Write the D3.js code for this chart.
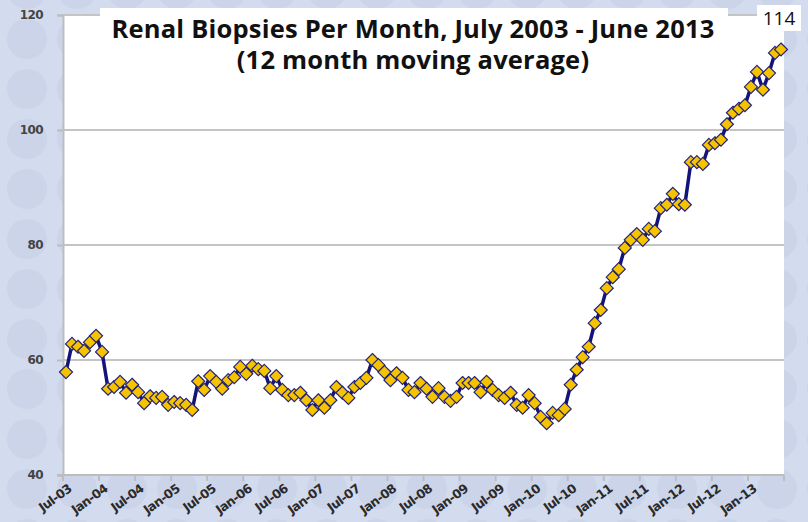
<!DOCTYPE html>
<html>
<head lang="en">
  <title>Renal Biopsies Per Month</title>
  <script src="https://d3js.org/d3.v7.min.js" charset="utf-8"></script>
  <style>
    body { margin: 0; }
  </style>
</head>
<body>
  <script>

    // DATA: 12 month moving average, Jul-03 .. Jun-13
    var biopsies = [
      57.9, 62.8, 62.3, 61.6, 63.1, 64.2, 61.4, 55.0, 55.3, 56.2, 54.3, 55.7,
      54.4, 52.5, 53.7, 53.4, 53.6, 52.2, 52.7, 52.5, 52.2, 51.3, 56.3, 54.8,
      57.2, 56.2, 55.0, 56.5, 57.0, 58.8, 57.6, 59.0, 58.4, 58.1, 55.1, 57.2,
      54.8, 53.9, 53.9, 54.3, 53.0, 51.3, 53.0, 51.7, 53.0, 55.3, 54.3, 53.4,
      55.3, 56.0, 56.9, 60.0, 59.1, 57.9, 56.5, 57.7, 56.9, 54.8, 54.4, 56.0,
      55.0, 53.6, 55.1, 53.6, 52.9, 53.6, 56.0, 56.0, 56.0, 54.4, 56.2, 54.8,
      53.9, 53.4, 54.3, 52.2, 51.7, 53.9, 52.5, 50.1, 49.0, 50.8, 50.4, 51.5,
      55.7, 58.3, 60.5, 62.3, 66.4, 68.7, 72.5, 74.4, 75.8, 79.5, 80.9, 81.9,
      80.9, 82.8, 82.4, 86.4, 87.0, 88.9, 87.1, 87.0, 94.4, 94.4, 94.1, 97.4,
      97.7, 98.3, 101.0, 103.0, 103.7, 104.3, 107.5, 110.1, 107.0, 109.9, 113.4, 114
    ];

    var tickLabels = [
      "Jul-03", "Jan-04", "Jul-04", "Jan-05", "Jul-05", "Jan-06", "Jul-06",
      "Jan-07", "Jul-07", "Jan-08", "Jul-08", "Jan-09", "Jul-09", "Jan-10",
      "Jul-10", "Jan-11", "Jul-11", "Jan-12", "Jul-12", "Jan-13"
    ];

    var yTicks = [40, 60, 80, 100, 120];

    var titleLines = ["Renal Biopsies Per Month, July 2003 - June 2013", "(12 month moving average)"];

    var lastLabel = "114";

    // months as categories, one per value
    var fmt = d3.timeFormat("%b-%y");
    var months = d3.timeMonths(new Date(2003, 6, 1), new Date(2013, 6, 1)).map(fmt);

    var width = 808;
    var height = 522;
    var plotLeft = 63, plotRight = 784, plotTop = 15, plotBottom = 475;

    var svg = d3.select("body")
      .append("svg")
      .attr("width", width)
      .attr("height", height);

    // BACKGROUND with faint circles
    var defs = svg.append("defs");
    var pat = defs.append("pattern")
      .attr("id", "dots")
      .attr("patternUnits", "userSpaceOnUse")
      .attr("x", 2)
      .attr("y", 14)
      .attr("width", 50)
      .attr("height", 50);
    pat.append("rect").attr("width", 50).attr("height", 50).attr("fill", "#d3dbee");
    pat.append("circle").attr("cx", 25).attr("cy", 25).attr("r", 20).attr("fill", "#ccd4ea");

    svg.append("rect")
      .attr("width", width)
      .attr("height", height)
      .attr("fill", "url(#dots)");

    // SCALES
    var x = d3.scaleBand()
      .domain(months)
      .range([plotLeft, plotRight]);

    var y = d3.scaleLinear()
      .domain([40, 120])
      .range([plotBottom, plotTop]);

    // plot area
    svg.append("rect")
      .attr("x", plotLeft)
      .attr("y", plotTop)
      .attr("width", plotRight - plotLeft)
      .attr("height", plotBottom - plotTop)
      .attr("fill", "#fff");

    // gridlines
    svg.append("g")
      .selectAll("line")
      .data(yTicks.slice(1))
      .enter().append("line")
        .attr("x1", plotLeft)
        .attr("x2", plotRight)
        .attr("y1", function(d) { return y(d); })
        .attr("y2", function(d) { return y(d); })
        .style("stroke", "#c4c4c4")
        .style("stroke-width", 2);

    // title box
    svg.append("rect")
      .attr("x", 100)
      .attr("y", 8)
      .attr("width", 628)
      .attr("height", 72)
      .attr("fill", "#fff");

    // Y AXIS
    var yAxis = svg.append("g")
      .attr("transform", "translate(" + plotLeft + ",0)")
      .call(d3.axisLeft(y).tickValues(yTicks).tickSize(6).tickPadding(14));
    yAxis.select(".domain").style("stroke", "#bdbdbd").style("stroke-width", 2);
    yAxis.selectAll(".tick line").style("stroke", "#bdbdbd").style("stroke-width", 2);
    yAxis.selectAll("text")
      .style("font-family", "'DejaVu Sans', sans-serif")
      .style("font-size", "12px")
      .style("font-weight", "bold")
      .style("letter-spacing", "-0.6px")
      .style("fill", "#444");

    // X AXIS: ticks between categories, every 6 months
    var bw = x.bandwidth();
    var tickPos = d3.range(0, months.length + 1, 6).map(function(i) { return plotLeft + i * bw; });

    svg.append("line")
      .attr("x1", plotLeft - 6)
      .attr("x2", plotRight)
      .attr("y1", plotBottom)
      .attr("y2", plotBottom)
      .style("stroke", "#bdbdbd")
      .style("stroke-width", 2);

    svg.append("g")
      .selectAll("line")
      .data(tickPos)
      .enter().append("line")
        .attr("x1", function(d) { return d; })
        .attr("x2", function(d) { return d; })
        .attr("y1", plotBottom)
        .attr("y2", plotBottom + 6)
        .style("stroke", "#bdbdbd")
        .style("stroke-width", 2);

    svg.append("g")
      .selectAll("text")
      .data(tickLabels)
      .enter().append("text")
        .attr("transform", function(d) {
          return "translate(" + (x(d) + bw / 2 + 4) + "," + (plotBottom + 12) + ") rotate(-36)";
        })
        .attr("text-anchor", "end")
        .attr("dy", "0.35em")
        .style("font-family", "'DejaVu Sans', sans-serif")
        .style("font-size", "12.5px")
        .style("font-weight", "bold")
        .style("letter-spacing", "-0.6px")
        .style("fill", "#2a2a2a")
        .text(function(d) { return d; });

    // LINE
    var line = d3.line()
      .x(function(d, i) { return x(months[i]) + bw / 2; })
      .y(function(d) { return y(d); });

    svg.append("path")
      .datum(biopsies)
      .attr("d", line)
      .style("fill", "none")
      .style("stroke", "#13137a")
      .style("stroke-width", 3.5)
      .style("stroke-linejoin", "round");

    // diamond markers
    var r = 6.5;
    svg.append("g")
      .selectAll("path")
      .data(biopsies)
      .enter().append("path")
        .attr("transform", function(d, i) {
          return "translate(" + (x(months[i]) + bw / 2) + "," + y(d) + ")";
        })
        .attr("d", "M0," + (-r) + "L" + r + ",0L0," + r + "L" + (-r) + ",0Z")
        .style("fill", "#f6c300")
        .style("stroke", "#23237a")
        .style("stroke-width", 1.2);

    // TITLE
    svg.append("g")
      .selectAll("text")
      .data(titleLines)
      .enter().append("text")
        .attr("x", 413)
        .attr("y", function(d, i) { return 38 + i * 31; })
        .attr("text-anchor", "middle")
        .style("font-family", "'Open Sans', sans-serif")
        .style("font-size", "25.5px")
        .style("font-weight", "bold")
        .style("letter-spacing", "0.2px")
        .style("fill", "#111")
        .text(function(d) { return d; });

    // last value label
    var lx = x(months[months.length - 1]) + bw / 2;
    svg.append("rect")
      .attr("x", lx - 24)
      .attr("y", 5)
      .attr("width", 44)
      .attr("height", 26)
      .attr("fill", "#fff");
    svg.append("text")
      .attr("x", lx - 2)
      .attr("y", 25)
      .attr("text-anchor", "middle")
      .style("font-family", "'Open Sans', sans-serif")
      .style("font-size", "19px")
      .style("fill", "#111")
      .text(lastLabel);

  </script>
</body>
</html>
